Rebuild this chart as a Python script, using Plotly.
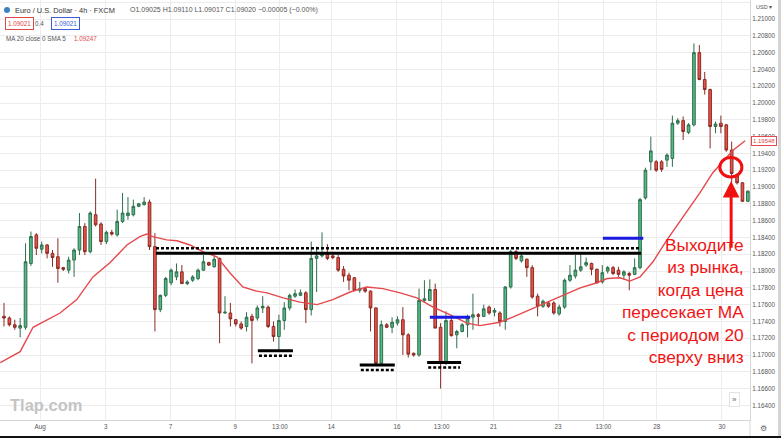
import plotly.graph_objects as go

# ---------------- data ----------------
opens = [1.1746, 1.1744, 1.1736, 1.1732, 1.1733, 1.1809, 1.1843, 1.1826, 1.1831, 1.1821,
         1.1817, 1.1804, 1.1801, 1.1813, 1.1825, 1.1853, 1.1823, 1.1867, 1.1856, 1.1835,
         1.1846, 1.1843, 1.1859, 1.1866, 1.1867, 1.1877, 1.1879, 1.1882, 1.1829, 1.1754,
         1.1771, 1.1786, 1.1793, 1.1799, 1.1785, 1.1789, 1.1791, 1.1801, 1.1810, 1.1805,
         1.1815, 1.1750, 1.1750, 1.1742, 1.1737, 1.1734, 1.1746, 1.1744, 1.1756, 1.1757,
         1.1734, 1.1722, 1.1741, 1.1756, 1.1770, 1.1771, 1.1774, 1.1754, 1.1815, 1.1818,
         1.1820, 1.1818, 1.1816, 1.1802, 1.1795, 1.1792, 1.1777, 1.1779, 1.1776, 1.1756,
         1.1690, 1.1736, 1.1733, 1.1738, 1.1742, 1.1724, 1.1702, 1.1700, 1.1765, 1.1765,
         1.1778, 1.1733, 1.1690, 1.1741, 1.1724, 1.1728, 1.1736, 1.1745, 1.1748, 1.1746,
         1.1757, 1.1751, 1.1750, 1.1740, 1.1781, 1.1823, 1.1812, 1.1814, 1.1804, 1.1770,
         1.1758, 1.1762, 1.1762, 1.1749, 1.1757, 1.1789, 1.1794, 1.1801, 1.1807, 1.1809,
         1.1802, 1.1787, 1.1800, 1.1804, 1.1801, 1.1795, 1.1797, 1.1796, 1.1804, 1.1887,
         1.1930, 1.1930, 1.1930, 1.1932, 1.1934, 1.1976, 1.1979, 1.1965, 1.1974, 1.2060,
         1.2028, 1.2016, 1.1972, 1.1976, 1.1974, 1.1944, 1.1913, 1.1905, 1.1883]
highs = [1.1762, 1.1746, 1.1742, 1.1744, 1.1833, 1.1847, 1.1845, 1.1835, 1.1832, 1.1825,
         1.1839, 1.1805, 1.1817, 1.1827, 1.1869, 1.1857, 1.1871, 1.1910, 1.1858, 1.1848,
         1.1849, 1.1873, 1.1893, 1.1888, 1.1885, 1.1881, 1.1888, 1.1885, 1.1845, 1.1772,
         1.1793, 1.1803, 1.1809, 1.1807, 1.1789, 1.1795, 1.1803, 1.1819, 1.1811, 1.1818,
         1.1816, 1.1770, 1.1762, 1.1743, 1.1740, 1.1751, 1.1749, 1.1759, 1.1770, 1.1759,
         1.1740, 1.1748, 1.1763, 1.1773, 1.1778, 1.1778, 1.1776, 1.1835, 1.1829, 1.1846,
         1.1832, 1.1823, 1.1819, 1.1806, 1.1798, 1.1793, 1.1787, 1.1781, 1.1777, 1.1757,
         1.1741, 1.1738, 1.1745, 1.1746, 1.1757, 1.1726, 1.1703, 1.1779, 1.1789, 1.1790,
         1.1785, 1.1738, 1.1752, 1.1745, 1.1730, 1.1738, 1.1748, 1.1773, 1.1750, 1.1760,
         1.1759, 1.1756, 1.1752, 1.1782, 1.1825, 1.1825, 1.1820, 1.1815, 1.1807, 1.1773,
         1.1766, 1.1764, 1.1764, 1.1760, 1.1791, 1.1807, 1.1819, 1.1820, 1.1816, 1.1810,
         1.1803, 1.1807, 1.1806, 1.1806, 1.1805, 1.1801, 1.1799, 1.1815, 1.1887, 1.1923,
         1.1960, 1.1932, 1.1932, 1.1940, 1.1985, 1.1982, 1.1984, 1.1976, 1.2071, 1.2069,
         1.2037, 1.2017, 1.1978, 1.1985, 1.1975, 1.1954, 1.1916, 1.1906, 1.1896]
lows = [1.1734, 1.1734, 1.1730, 1.1721, 1.1730, 1.1806, 1.1819, 1.1821, 1.1815, 1.1805,
        1.1786, 1.1800, 1.1797, 1.1793, 1.1819, 1.1819, 1.1821, 1.1853, 1.1831, 1.1832,
        1.1842, 1.1841, 1.1857, 1.1861, 1.1865, 1.1876, 1.1878, 1.1825, 1.1728, 1.1751,
        1.1769, 1.1783, 1.1789, 1.1785, 1.1783, 1.1787, 1.1789, 1.1800, 1.1806, 1.1804,
        1.1714, 1.1749, 1.1734, 1.1734, 1.1730, 1.1728, 1.1690, 1.1741, 1.1750, 1.1732,
        1.1716, 1.1706, 1.1730, 1.1753, 1.1768, 1.1770, 1.1738, 1.1747, 1.1775, 1.1816,
        1.1813, 1.1814, 1.1799, 1.1787, 1.1777, 1.1776, 1.1774, 1.1774, 1.1728, 1.1688,
        1.1688, 1.1732, 1.1726, 1.1735, 1.1700, 1.1697, 1.1698, 1.1698, 1.1762, 1.1765,
        1.1732, 1.1660, 1.1688, 1.1722, 1.1708, 1.1727, 1.1721, 1.1730, 1.1736, 1.1745,
        1.1748, 1.1746, 1.1734, 1.1730, 1.1779, 1.1813, 1.1810, 1.1793, 1.1767, 1.1746,
        1.1756, 1.1756, 1.1748, 1.1747, 1.1755, 1.1787, 1.1791, 1.1799, 1.1805, 1.1795,
        1.1785, 1.1785, 1.1797, 1.1795, 1.1793, 1.1790, 1.1777, 1.1795, 1.1802, 1.1885,
        1.1920, 1.1918, 1.1918, 1.1924, 1.1924, 1.1974, 1.1956, 1.1963, 1.1972, 1.2027,
        1.2010, 1.1946, 1.1964, 1.1964, 1.1942, 1.1905, 1.1903, 1.1882, 1.1882]
closes = [1.1744, 1.1736, 1.1733, 1.1735, 1.1811, 1.1841, 1.1827, 1.1831, 1.1821, 1.1816,
          1.1803, 1.1802, 1.1813, 1.1825, 1.1853, 1.1823, 1.1869, 1.1855, 1.1835, 1.1846,
          1.1844, 1.1859, 1.1869, 1.1869, 1.1877, 1.1880, 1.1882, 1.1829, 1.1754, 1.1771,
          1.1791, 1.1801, 1.1799, 1.1785, 1.1787, 1.1793, 1.1801, 1.1811, 1.1807, 1.1814,
          1.1750, 1.1751, 1.1743, 1.1737, 1.1732, 1.1745, 1.1741, 1.1756, 1.1758, 1.1734,
          1.1722, 1.1741, 1.1756, 1.1771, 1.1773, 1.1774, 1.1754, 1.1815, 1.1818, 1.1820,
          1.1815, 1.1816, 1.1801, 1.1794, 1.1789, 1.1777, 1.1779, 1.1776, 1.1756, 1.1690,
          1.1736, 1.1733, 1.1739, 1.1742, 1.1724, 1.1701, 1.1700, 1.1765, 1.1767, 1.1778,
          1.1732, 1.1690, 1.1741, 1.1723, 1.1728, 1.1736, 1.1744, 1.1748, 1.1746, 1.1755,
          1.1750, 1.1753, 1.1740, 1.1781, 1.1823, 1.1815, 1.1818, 1.1804, 1.1769, 1.1758,
          1.1764, 1.1758, 1.1750, 1.1757, 1.1789, 1.1795, 1.1801, 1.1805, 1.1810, 1.1802,
          1.1786, 1.1798, 1.1804, 1.1797, 1.1796, 1.1799, 1.1795, 1.1804, 1.1885, 1.1920,
          1.1943, 1.1920, 1.1921, 1.1938, 1.1976, 1.1979, 1.1966, 1.1974, 1.2060, 1.2028,
          1.2016, 1.1972, 1.1975, 1.1972, 1.1944, 1.1916, 1.1905, 1.1883, 1.1895]
bars = list(range(len(opens)))

tick_pos = [6.7, 18.9, 30.9, 42.9, 51.2, 60.7, 72.9, 81.2, 90.8, 102.8, 111.2, 121.1, 133.2]
tick_text = ["Aug", "3", "7", "9", "13:00", "14", "16", "13:00", "21", "23", "13:00", "28", "30"]

# MA 20 line
ma_x = [-0.7, 3, 5.4, 7.2, 10.4, 13.5, 16.5, 19.7, 22.8, 25.2, 26.5, 27.6, 30.2, 32.1, 34.5,
        36.9, 39.5, 41.9, 44.3, 46.9, 48.8, 51.8, 54.9, 58.1, 61.0, 64.2, 67.3, 70.3, 73.5,
        76.6, 79.6, 82.7, 85.9, 88.3, 92.0, 94.4, 97.6, 100.7, 103.7, 106.9, 110.0, 111.9,
        114.3, 116.1, 118.0, 120.4, 123.0, 126.0, 129.1, 131.5, 134.1, 135.3, 137.5]
ma_y = [1.1691, 1.1704, 1.1733, 1.1739, 1.1750, 1.1766, 1.1793, 1.1810, 1.1831, 1.1841,
        1.1844, 1.1841, 1.1837, 1.1836, 1.1831, 1.1823, 1.1817, 1.1798, 1.1781, 1.1776,
        1.1774, 1.1768, 1.1763, 1.1760, 1.1766, 1.1775, 1.1781, 1.1779, 1.1774, 1.1768,
        1.1757, 1.1748, 1.1738, 1.1735, 1.1739, 1.1745, 1.1754, 1.1762, 1.1771, 1.1780,
        1.1786, 1.1791, 1.1792, 1.1788, 1.1793, 1.1811, 1.1837, 1.1864, 1.1893, 1.1917,
        1.1936, 1.1944, 1.1955]
ma_last = 1.19548

# drawn levels (start bar, end bar, price)
res_x = [28.2, 118.2]
res_solid = 1.1821
res_dotted = 1.1827
sup_x0 = [47.1, 66.0, 78.5]
sup_x1 = [53.6, 72.5, 84.8]
sup_solid = [1.1705, 1.1688, 1.1691]
sup_dotted = [1.1699, 1.1682, 1.1685]
blue_x0 = [79.0, 111.1]
blue_x1 = [86.5, 118.6]
blue_y = [1.1745, 1.1839]
circle_box = [132.8, 136.9, 1.1912, 1.1935]
arrow_bar = 134.9
arrow_tip = 1.1907
arrow_tail = 1.1826

# ---------------- figure ----------------
W, H = 781, 438
PW, PH = 750, 420
def xp(px):
    return px / PW
def yp(py):
    return 1 - py / PH

FONT = "Liberation Sans, Arial, sans-serif"
fig = go.Figure()
fig.add_trace(go.Candlestick(
    x=bars, open=opens, high=highs, low=lows, close=closes,
    increasing=dict(fillcolor="#53b987", line=dict(color="#2f6e4d", width=1)),
    decreasing=dict(fillcolor="#e8524a", line=dict(color="#8a2c24", width=1)),
    whiskerwidth=0, showlegend=False, hoverinfo="skip"))

fig.add_trace(go.Scatter(x=ma_x, y=ma_y, mode="lines", line=dict(color="#e5484d", width=1.4),
                         showlegend=False, hoverinfo="skip"))

# resistance
fig.add_trace(go.Scatter(x=res_x, y=[res_dotted, res_dotted], mode="lines",
                         line=dict(color="black", width=2.5, dash="3px,2px"), showlegend=False))
fig.add_trace(go.Scatter(x=res_x, y=[res_solid, res_solid], mode="lines",
                         line=dict(color="black", width=3), showlegend=False))
for a, b, s, d in zip(sup_x0, sup_x1, sup_solid, sup_dotted):
    fig.add_trace(go.Scatter(x=[a, b], y=[s, s], mode="lines",
                             line=dict(color="black", width=3), showlegend=False))
    fig.add_trace(go.Scatter(x=[a + 0.2, b - 0.2], y=[d, d], mode="lines",
                             line=dict(color="black", width=2.5, dash="3px,2px"), showlegend=False))
for a, b, v in zip(blue_x0, blue_x1, blue_y):
    fig.add_trace(go.Scatter(x=[a, b], y=[v, v], mode="lines",
                             line=dict(color="#1a1ae0", width=3), showlegend=False))

shapes = [
    dict(type="circle", xref="x", yref="y", x0=circle_box[0], x1=circle_box[1],
         y0=circle_box[2], y1=circle_box[3], line=dict(color="#f01010", width=3)),
    dict(type="circle", xref="paper", yref="paper", x0=xp(4), x1=xp(10), y0=yp(13), y1=yp(7),
         fillcolor="#3b82c4", line=dict(width=0)),
    dict(type="rect", xref="paper", yref="paper", x0=0, x1=xp(781), y0=yp(438), y1=yp(436),
         fillcolor="#111", line=dict(width=0)),
    dict(type="rect", xref="paper", yref="paper", x0=xp(778), x1=xp(781), y0=yp(436), y1=1,
         fillcolor="#d4d4d4", line=dict(width=0)),
    dict(type="line", xref="paper", yref="paper", x0=xp(750), x1=xp(750), y0=yp(436), y1=yp(420),
         line=dict(color="#d6d6d6", width=1)),
]

ann = []
def txt(s, px, py, size=7, color="#444", anchor="left", **kw):
    ann.append(dict(text=s, x=xp(px), y=yp(py), xref="paper", yref="paper", showarrow=False,
                    xanchor=anchor, yanchor="middle", font=dict(size=size, color=color, family=FONT), **kw))

txt("Euro / U.S. Dollar · 4h · FXCM", 13, 10, 7.4, "#333")
txt("O1.09025 H1.09110 L1.09017 C1.09020 −0.00005 (−0.00%)", 128, 10, 7, "#555")
txt("1.09021", 5, 23, 6.3, "#e04848", bordercolor="#e04848", borderwidth=1, borderpad=2, bgcolor="white")
txt("0.4", 33, 23, 6.3, "#555")
txt("1.09021", 51, 23, 6.3, "#3b5bdb", bordercolor="#3b5bdb", borderwidth=1, borderpad=2, bgcolor="white")
txt("MA 20 close 0 SMA 5", 4, 38, 6.3, "#555")
txt("1.09247", 72, 38, 6.3, "#e04848")
txt("<b>Tlap.com</b>", 8, 405, 16.5, "#c4c4c4")
txt("USD ▾", 754, 7, 5.5, "#555")
txt("»", 734, 399, 8, "#666", anchor="center", bordercolor="#e4e4e4", borderwidth=1, borderpad=2, bgcolor="white")
txt("⚙", 763, 429, 8, "#666", anchor="center")

ann.append(dict(text="1.19548", x=xp(751), y=ma_last, xref="paper", yref="y", showarrow=False,
                xanchor="left", yanchor="middle", font=dict(size=6, color="#e5484d", family=FONT),
                bordercolor="#e5484d", borderwidth=1, borderpad=1, bgcolor="white"))

ann.append(dict(text="", x=arrow_bar, y=arrow_tip, ax=arrow_bar, ay=arrow_tail, xref="x", yref="y",
                axref="x", ayref="y", showarrow=True, arrowhead=2, arrowsize=1.1, arrowwidth=3,
                arrowcolor="#f01010"))

ann.append(dict(text="Выходите<br>из рынка,<br>когда цена<br>пересекает МА<br>с периодом 20<br>сверху вниз",
                x=xp(746), y=yp(301), xref="paper", yref="paper", showarrow=False, xanchor="right",
                yanchor="middle", align="right", font=dict(size=17.3, color="#f01414", family=FONT)))

fig.update_layout(
    width=W, height=H, margin=dict(l=0, r=W - PW, t=0, b=H - PH),
    paper_bgcolor="white", plot_bgcolor="white", showlegend=False,
    shapes=shapes, annotations=ann,
    xaxis=dict(range=[-0.74, 138.4], tickmode="array", tickvals=tick_pos, ticktext=tick_text,
               showgrid=True, gridcolor="#ececec", gridwidth=1, zeroline=False,
               rangeslider=dict(visible=False), showline=True, linecolor="#d6d6d6",
               ticks="", tickfont=dict(size=6.3, color="#555", family=FONT), fixedrange=True),
    yaxis=dict(side="right", range=[1.162262, 1.212262], tick0=1.164, dtick=0.002,
               tickformat=".5f", showgrid=True, gridcolor="#ececec", gridwidth=1, zeroline=False,
               showline=True, linecolor="#d6d6d6", ticks="",
               tickfont=dict(size=6.3, color="#555", family=FONT)),
)

fig.write_html("out.html")
